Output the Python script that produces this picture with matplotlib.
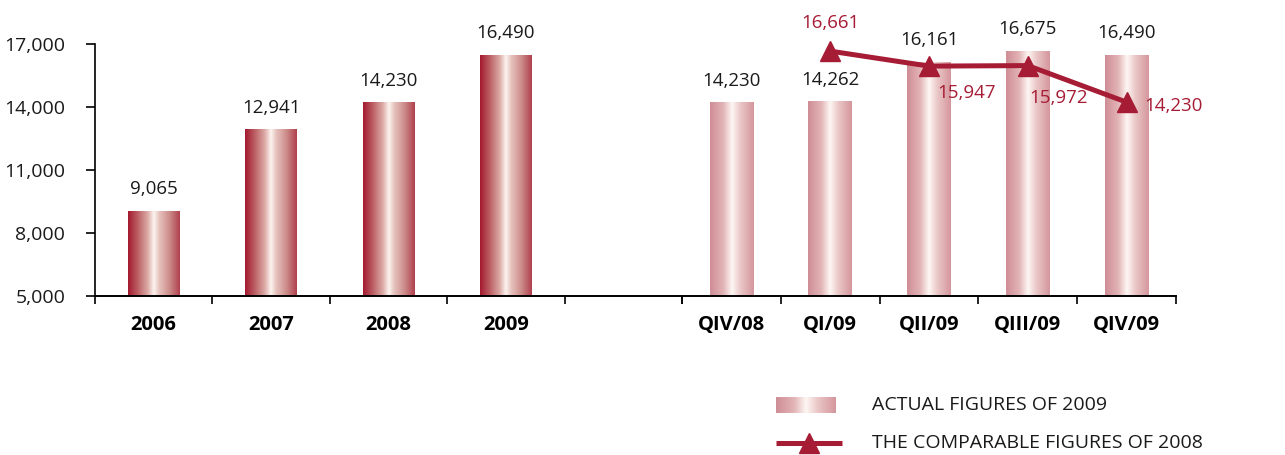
import numpy as np
import matplotlib
matplotlib.use("Agg")
import matplotlib.pyplot as plt
from matplotlib.colors import LinearSegmentedColormap

plt.rcParams['font.family'] = ['Open Sans', 'DejaVu Sans']

# data
years = ['2006', '2007', '2008', '2009', '']
year_values = [9065, 12941, 14230, 16490, None]
quarters = ['QIV/08', 'QI/09', 'QII/09', 'QIII/09', 'QIV/09']
quarter_values = [14230, 14262, 16161, 16675, 16490]
comp_quarters = ['QI/09', 'QII/09', 'QIII/09', 'QIV/09']
comp_values = [16661, 15947, 15972, 14230]
yticks = [5000, 8000, 11000, 14000, 17000]

RED = '#a61c35'
TXT = '#1a1a1a'
dark_cmap = LinearSegmentedColormap.from_list('dark', [
    (0.0, '#a3192f'), (0.18, '#bb5c62'), (0.38, '#dcaaa6'), (0.5, '#fdf5f0'),
    (0.6, '#e6c3be'), (0.8, '#cc8c8a'), (1.0, '#b0404e')])
light_cmap = LinearSegmentedColormap.from_list('light', [
    (0.0, '#cf8d95'), (0.3, '#e2b4b5'), (0.5, '#fdf7f4'),
    (0.7, '#eac6c6'), (1.0, '#d4969c')])
grad = np.linspace(0, 1, 256).reshape(1, -1)


def gradient_bars(ax, bars, cmap):
    for b in bars:
        x, y = b.get_x(), b.get_y()
        w, h = b.get_width(), b.get_height()
        if h == 0:
            continue
        b.set_facecolor('none')
        b.set_edgecolor('none')
        im = ax.imshow(grad, cmap=cmap, aspect='auto', extent=[x, x + w, y, y + h],
                       interpolation='bicubic', zorder=2)
        im.set_clip_path(b)


fig = plt.figure(figsize=(12.85, 4.55), dpi=100)
ax1 = fig.add_axes([95 / 1285, 1 - 296 / 455, 587 / 1285, 252 / 455])
ax2 = fig.add_axes([682 / 1285, 1 - 296 / 455, 494 / 1285, 252 / 455], sharey=ax1)
ax1.set_ylim(5000, 17000)

x1 = np.arange(len(years))
vals1 = [v if v is not None else 5000 for v in year_values]
bars1 = ax1.bar(x1, [v - 5000 for v in vals1], width=0.44, bottom=5000, zorder=2)
gradient_bars(ax1, bars1, dark_cmap)
for xi, v in zip(x1, year_values):
    if v is not None:
        ax1.annotate(f'{v:,}', (xi, v), xytext=(0, 9), textcoords='offset points',
                     ha='center', va='bottom', fontsize=13.5, color=TXT)

x2 = np.arange(len(quarters))
bars2 = ax2.bar(x2, [v - 5000 for v in quarter_values], width=0.44, bottom=5000, zorder=2)
gradient_bars(ax2, bars2, light_cmap)
for xi, v in zip(x2, quarter_values):
    ax2.annotate(f'{v:,}', (xi, v), xytext=(0, 9), textcoords='offset points',
                 ha='center', va='bottom', fontsize=13.5, color=TXT)

xc = [quarters.index(q) for q in comp_quarters]
ax2.plot(xc, comp_values, color=RED, lw=3.6, marker='^', markersize=15, zorder=4,
         clip_on=False)
offsets = [(0, 14, 'center', 'bottom'), (6, -13, 'left', 'top'),
           (1, -17, 'left', 'top'), (13, -3, 'left', 'center')]
for xi, v, (dx, dy, ha, va) in zip(xc, comp_values, offsets):
    ax2.annotate(f'{v:,}', (xi, v), xytext=(dx, dy), textcoords='offset points',
                 ha=ha, va=va, fontsize=13.5, color=RED)

for ax, labels in ((ax1, years), (ax2, quarters)):
    n = len(labels)
    ax.set_xlim(-0.5, n - 0.5)
    ax.set_xticks(np.arange(n))
    ax.set_xticklabels(labels, fontsize=14.5, fontweight='bold')
    ax.set_xticks(np.arange(n + 1) - 0.5, minor=True)
    ax.tick_params(axis='x', which='major', length=0, pad=14)
    ax.tick_params(axis='x', which='minor', length=6, width=1.2, direction='out')
    for s in ('top', 'right'):
        ax.spines[s].set_visible(False)
    ax.spines['bottom'].set_linewidth(1.4)

ax1.set_yticks(yticks)
ax1.set_yticklabels([f'{t:,}' for t in yticks], fontsize=14, color=TXT)
ax1.tick_params(axis='y', length=6.5, width=1.2, pad=15)
ax1.spines['left'].set_linewidth(1.2)
ax2.spines['left'].set_visible(False)
ax2.tick_params(axis='y', left=False, labelleft=False)

# legend
leg = fig.add_axes([770 / 1285, 0, 515 / 1285, 75 / 455])
leg.set_xlim(0, 515)
leg.set_ylim(75, 0)
leg.axis('off')
leg.imshow(grad, cmap=light_cmap, aspect='auto', extent=[6, 66, 33, 17], interpolation='bicubic')
leg.plot([6, 72], [63, 63], color=RED, lw=3.6, solid_capstyle='butt')
leg.plot([39], [63], color=RED, marker='^', markersize=15, ls='none')
leg.text(102, 25, 'ACTUAL FIGURES OF 2009', fontsize=14, va='center', color=TXT)
leg.text(102, 63, 'THE COMPARABLE FIGURES OF 2008', fontsize=14, va='center', color=TXT)

fig.savefig('out.png', dpi=100)
